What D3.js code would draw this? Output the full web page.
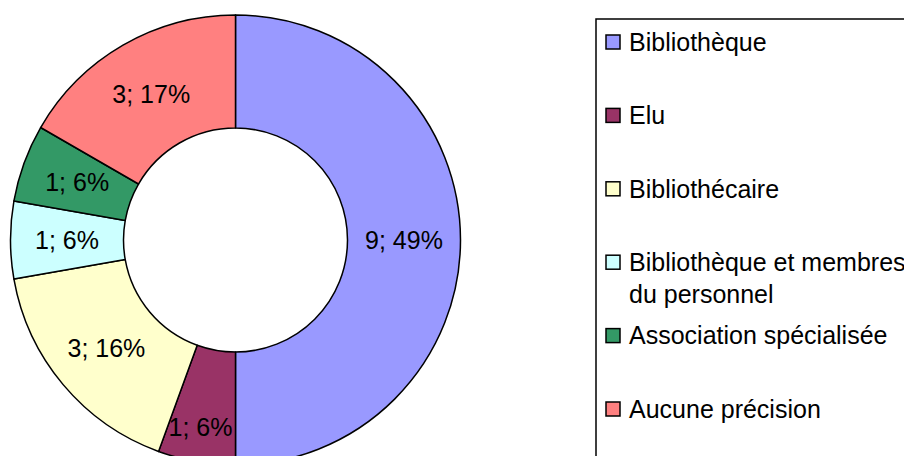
<!DOCTYPE html>
<html><head><meta charset="utf-8">
<script src="https://cdn.jsdelivr.net/npm/d3@7/dist/d3.min.js"></script>
<style>html,body{margin:0;padding:0;background:#fff;overflow:hidden}</style>
</head><body>
<script>
const categories = ["Bibliothèque", "Elu", "Bibliothécaire", "Bibliothèque et membres du personnel", "Association spécialisée", "Aucune précision"];
const values = [9, 1, 3, 1, 1, 3];
const percentLabels = ["49%", "6%", "16%", "6%", "6%", "17%"];
const colors = ["#9999FF", "#993366", "#FFFFCC", "#CCFFFF", "#339966", "#FF8080"];
const legendLines = [["Bibliothèque"], ["Elu"], ["Bibliothécaire"], ["Bibliothèque et membres", "du personnel"], ["Association spécialisée"], ["Aucune précision"]];

const W = 904, H = 456;
const svg = d3.select("body").append("svg").attr("width", W).attr("height", H)
  .style("font-family", "'Liberation Sans', Arial, sans-serif");

const cx = 235.5, cy = 240, rOuter = 225, rInner = 112;
const pie = d3.pie().sort(null).value(d => d.v);
const data = categories.map((c, i) => ({c, v: values[i], i}));
const arcs = pie(data);
const arc = d3.arc().innerRadius(rInner).outerRadius(rOuter);
const g = svg.append("g").attr("transform", `translate(${cx},${cy})`);
g.selectAll("path").data(arcs).join("path")
  .attr("d", arc)
  .attr("fill", d => colors[d.data.i])
  .attr("stroke", "#000").attr("stroke-width", 1.5).attr("stroke-linejoin", "round");

g.selectAll("text").data(arcs).join("text")
  .attr("transform", d => {
    const a = (d.startAngle + d.endAngle) / 2;
    const r = d.data.i === 1 ? 190 : (rInner + rOuter) / 2;
    const dx = d.data.i === 1 ? -2 : 0;
    return `translate(${r * Math.sin(a) + dx},${-r * Math.cos(a)})`;
  })
  .attr("text-anchor", "middle").attr("dy", "0.36em")
  .attr("font-size", 25).attr("fill", "#000")
  .text(d => `${d.data.v}; ${percentLabels[d.data.i]}`);

// Legend
const lg = svg.append("g");
lg.append("rect").attr("x", 596).attr("y", 19).attr("width", 340).attr("height", 480)
  .attr("fill", "#fff").attr("stroke", "#000").attr("stroke-width", 1.5);
const rowY = d3.scalePoint().domain(d3.range(categories.length)).range([42, 409]);
categories.forEach((c, i) => {
  const y = rowY(i);
  lg.append("rect").attr("x", 606).attr("y", y - 7).attr("width", 14).attr("height", 14)
    .attr("fill", colors[i]).attr("stroke", "#000").attr("stroke-width", 1.5);
  const t = lg.append("text").attr("x", 629).attr("y", y + 8.7).attr("font-size", 25).attr("fill", "#000");
  legendLines[i].forEach((ln, k) => {
    t.append("tspan").attr("x", 629).attr("dy", k === 0 ? 0 : 32).text(ln);
  });
});
</script>
</body></html>
